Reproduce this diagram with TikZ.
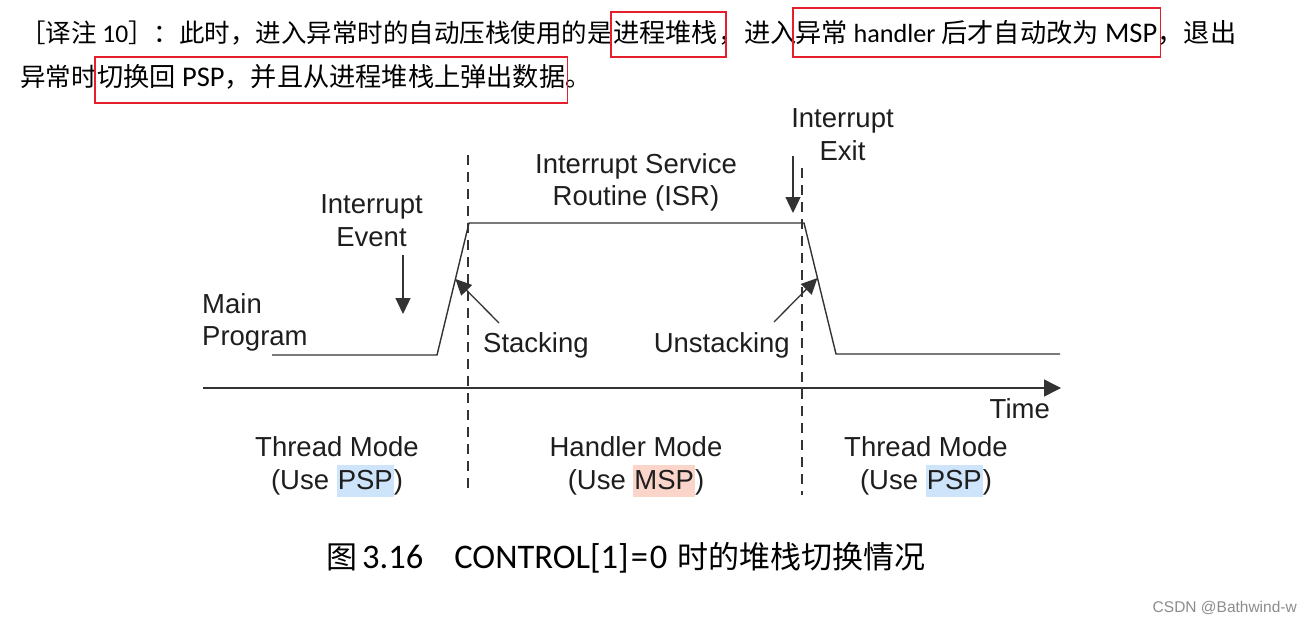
\documentclass[tikz,border=0pt]{standalone}
\usepackage{fontspec}
\setmainfont{Liberation Sans}
\newfontfamily\cjk{Noto Sans CJK SC}
\newfontfamily\lat{Carlito}
\usetikzlibrary{arrows.meta,calc}
\definecolor{pspblue}{HTML}{CDE4FA}
\definecolor{msppink}{HTML}{FBD4CA}
\definecolor{boxred}{HTML}{E3202B}
\definecolor{ink}{HTML}{1E1E1E}
\definecolor{wire}{HTML}{333333}
\newcommand{\hlbox}[2]{{\setlength{\fboxsep}{1pt}\colorbox{#1}{\rule[-7pt]{0pt}{30pt}#2}}}
\newcommand{\bigfs}{\fontsize{26.2}{30}\selectfont}
\newcommand{\latfs}{\fontsize{28.5}{30}\selectfont}
\begin{document}
\begin{tikzpicture}[x=1pt,y=-1pt,
  lbl/.style={inner sep=0pt, font=\fontsize{27.5}{33}\selectfont, text=ink},
  toptext/.style={inner sep=0pt, anchor=base west, font=\fontsize{25.5}{30}\selectfont, text=black},
  redbox/.style={draw=boxred, line width=1.5pt},
  wave/.style={draw=wire, line width=1.4pt},
  divider/.style={draw=wire, line width=1.6pt, dash pattern=on 10pt off 7pt},
  pointer/.style={draw=wire, line width=1.3pt, -{Triangle[length=16pt,width=15pt]}},
  axisline/.style={draw=wire, line width=1.4pt, -{Triangle[length=17pt,width=17pt]}}]

\fill[white] (0,0) rectangle (1311,621);
\useasboundingbox (0,0) rectangle (1311,621);

% ---------- top paragraph ----------
\node[toptext] (t1a) at (20,42.5) {{\cjk ［译注}{\lat\ 10}{\cjk ］：此时，进入异常时的自动压栈使用的是}};
\node[toptext] (t1b) at (613,42.5) {\bigfs\cjk 进程堆栈};
\node[toptext] (t1c) at (t1b.base east) {\bigfs\cjk ，进入};
\node[toptext] (t1d) at (795,42.5) {\bigfs{\cjk 异常}{\lat\ handler\ }{\cjk 后才自动改为}{\lat\latfs\ MSP}};
\node[toptext] (t1e) at (t1d.base east) {\bigfs\cjk ，退出};

\node[toptext] (t2a) at (20,86) {\cjk 异常时};
\node[toptext] (t2b) at (t2a.base east) {\bigfs{\cjk 切换回}{\lat\latfs\ PSP}{\cjk ，并且从进程堆栈上弹出数据}};
\node[toptext] (t2c) at (t2b.base east) {\bigfs\cjk 。};

\coordinate (ya) at (0,12);
\coordinate (yb) at (0,57);
\coordinate (yc) at (0,8);
\coordinate (yd) at (0,103);
\draw[redbox] ($(t1b.west |- ya)+(-2,0)$) rectangle ($(t1b.east |- yb)+(8,0)$);
\draw[redbox] ($(t1d.west |- yc)+(-2,0)$) rectangle ($(t1d.east |- yb)+(3,0)$);
\draw[redbox] ($(t2b.west |- yb)+(-2,0)$) rectangle ($(t2b.east |- yd)+(2,0)$);

% ---------- timing diagram ----------
\coordinate (w0) at (272,355);
\coordinate (w1) at (437,355);
\coordinate (w2) at (469,223);
\coordinate (w3) at (804,223);
\coordinate (w4) at (836,354);
\coordinate (w5) at (1060,354);
\draw[wave] (w0) -- (w1) -- (w2) -- (w3) -- (w4) -- (w5);

\coordinate (d1t) at (468,155);
\coordinate (d1b) at (468,490);
\coordinate (d2t) at (802,168);
\coordinate (d2b) at (802,495);
\draw[divider] (d1t) -- (d1b);
\draw[divider] (d2t) -- (d2b);

\coordinate (ax0) at (203,388);
\coordinate (ax1) at (1061,388);
\draw[axisline] (ax0) -- (ax1);

\coordinate (ev0) at (403,255);
\coordinate (ev1) at (403,314);
\draw[pointer] (ev0) -- (ev1);
\coordinate (ex0) at (793,156);
\coordinate (ex1) at (793,213);
\draw[pointer] (ex0) -- (ex1);
\coordinate (st0) at (499,323);
\coordinate (st1) at ($(w1)!0.576!(w2)$);
\draw[pointer] (st0) -- (st1);
\coordinate (us0) at (774,322);
\coordinate (us1) at ($(w3)!0.42!(w4)$);
\draw[pointer] (us0) -- (us1);

% labels
\node[lbl, anchor=base] (ie1) at (371.5,213) {Interrupt};
\node[lbl, anchor=base] (ie2) at (371.5,246) {Event};
\node[lbl, anchor=base west] (mp1) at (202,313) {Main};
\node[lbl, anchor=base west] (mp2) at (202,345) {Program};
\node[lbl, anchor=base] (is1) at (636,173) {Interrupt Service};
\node[lbl, anchor=base] (is2) at (636,205) {Routine (ISR)};
\node[lbl, anchor=base] (ix1) at (842.5,127) {Interrupt};
\node[lbl, anchor=base] (ix2) at (842.5,160) {Exit};
\node[lbl, anchor=base west] (stk) at (483,352) {Stacking};
\node[lbl, anchor=base east] (ustk) at (790,352) {Unstacking};
\node[lbl, anchor=base east] (time) at (1050,418) {Time};

\node[lbl, anchor=base] (m1a) at (337,456) {Thread Mode};
\node[lbl, anchor=base] (m1b) at (337,489) {(Use \hlbox{pspblue}{PSP})};
\node[lbl, anchor=base] (m2a) at (636,456) {Handler Mode};
\node[lbl, anchor=base] (m2b) at (636,489) {(Use \hlbox{msppink}{MSP})};
\node[lbl, anchor=base] (m3a) at (926,456) {Thread Mode};
\node[lbl, anchor=base] (m3b) at (926,489) {(Use \hlbox{pspblue}{PSP})};

% caption
\node[inner sep=0pt, anchor=base west, text=black, font=\fontsize{31}{36}\selectfont] (cap) at (326,568)
  {{\cjk 图}\hspace{5pt}{\lat\fontsize{34.5}{36}\selectfont 3.16\hspace{31pt}CONTROL[1]\hspace{2pt}=\hspace{2pt}0}\hspace{10pt}{\cjk 时的堆栈切换情况}};

% watermark
\node[inner sep=0pt, anchor=base east, text=black!45, font=\fontsize{15.5}{18}\selectfont] (wm) at (1297,612) {CSDN @Bathwind-w};
\end{tikzpicture}
\end{document}
